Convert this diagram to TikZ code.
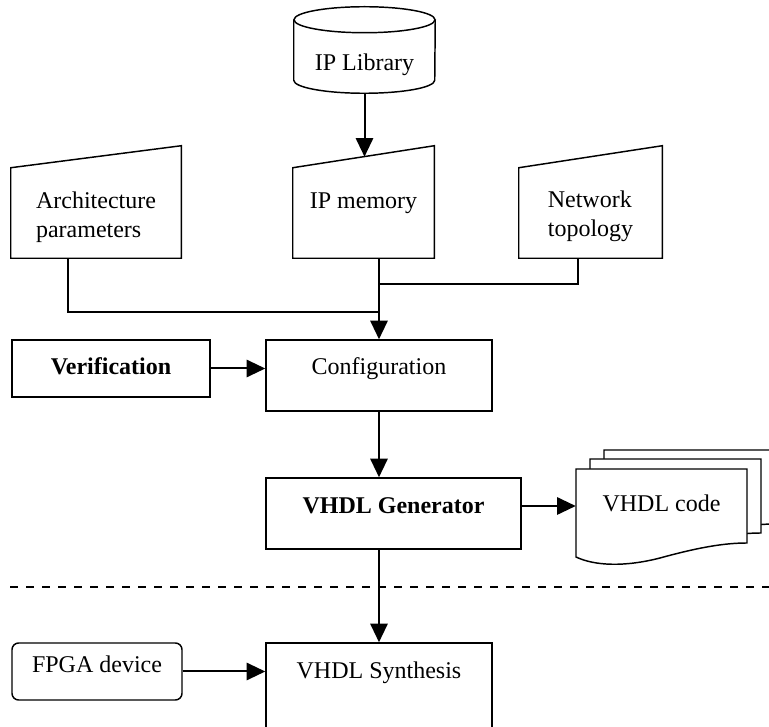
\documentclass[tikz,border=0pt]{standalone}
\usepackage{fontspec}
\setmainfont{Liberation Serif}
\usetikzlibrary{arrows.meta,calc,backgrounds}

\begin{document}
\begin{tikzpicture}[x=0.75pt, y=-0.75pt,
    font=\fontsize{18}{21.75}\selectfont,
    box/.style={draw, line width=1.1pt, inner sep=0pt},
    plain/.style={inner sep=0pt},
    line/.style={line width=1.1pt},
    arr/.style={line width=1.5pt, -{Triangle[length=14pt,width=13pt]}}]
  \useasboundingbox (0,0) rectangle (769,727);

  % IP library (cylinder drawn by hand round the node)
  \node[plain, minimum width=105.75pt, text height=48pt, text depth=16.5pt] (lib) at (364.5,50) {IP Library};
  \draw[line] ($(lib.north west)+(0,13)$) -- ($(lib.south west)+(0,-13)$)
    arc[start angle=180, end angle=360, x radius=52.875pt, y radius=9.75pt]
    -- ($(lib.north east)+(0,13)$);
  \draw[line] ($(lib.north)+(0,13)$) ellipse [x radius=52.875pt, y radius=9.75pt];

  % inputs with slanted top
  \node[plain, minimum width=127.5pt, text height=52.5pt, text depth=15pt, align=left] (arch) at (96,213) {Architecture\\parameters};
  \node[plain, minimum width=105.75pt, text height=30.75pt, text depth=36.75pt] (mem) at (363.5,213) {IP memory};
  \node[plain, minimum width=107.25pt, text height=51.75pt, text depth=15.75pt, align=left] (topo) at (590.5,213) {Network\\topology};
  \foreach \n in {arch,mem,topo}
    \draw[line] (\n.south west) -- (\n.north west) -- ($(\n.north east)+(0,-22)$) -- (\n.south east) -- cycle;

  % main flow
  \node[box, minimum width=148.5pt, text height=26.25pt, text depth=16.5pt] (ver) at (111,368.5) {\textbf{Verification}};
  \node[box, minimum width=169.5pt, text height=26.25pt, text depth=27pt] (conf) at (379,375.5) {Configuration};
  \node[box, minimum width=191.25pt, text height=27pt, text depth=26.25pt] (gen) at (393.5,513.5) {\textbf{VHDL Generator}};
  \node[box, minimum width=169.5pt, text height=27pt, text depth=45.75pt] (syn) at (379,691.5) {VHDL Synthesis};
  \node[box, rounded corners=5pt, minimum width=127.5pt, text height=22.5pt, text depth=20.25pt] (fpga) at (97,671.5) {FPGA device};

  % output documents
  \node[plain, minimum width=128.25pt, text height=32.25pt, text depth=23.25pt] (code) at (661.5,506) {VHDL code};
  \begin{scope}[on background layer]
    \foreach \dx/\dy in {28/19,14/10,0/0}
      \draw[line, fill=white, shift={(\dx,-\dy)}] (576,469) -- (747,469) -- (747,543)
        .. controls (725,543) and (700,547) .. (660,558)
        .. controls (625,567) and (595,566) .. (576,557) -- cycle;
  \end{scope}

  % connectors
  \coordinate (jt) at (379,284);
  \coordinate (ja) at (379,312);
  \coordinate (mtop) at ($(mem.north west)!0.5!(mem.north east)+(0,-11)$);
  \draw[arr] (lib.south) -- (lib.south |- mtop);
  \draw[line] ($(arch.south)+(-28,0)$) |- (ja);
  \draw[line] ($(topo.south)+(-12.5,0)$) |- (jt);
  \draw[arr] (conf.north |- mem.south) -- (conf.north);
  \draw[arr] (ver.east) -- (ver.east -| conf.west);
  \draw[arr] (conf.south) -- (conf.south |- gen.north);
  \draw[arr] (gen.east |- code.west) -- (code.west);
  \draw[arr] (syn.north |- gen.south) -- (syn.north);
  \draw[arr] (fpga) -- (fpga -| syn.west);

  % separator
  \draw[line, dash pattern=on 6pt off 6pt] (10,587) -- (769,587);
\end{tikzpicture}
\end{document}
